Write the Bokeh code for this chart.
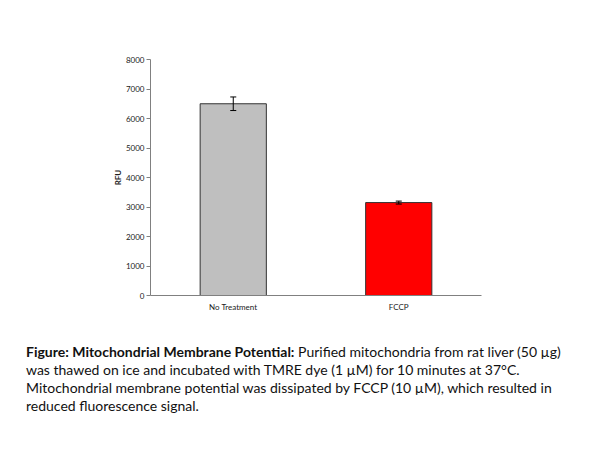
from bokeh.plotting import figure
from bokeh.models import ColumnDataSource, Whisker, Div, FixedTicker
from bokeh.layouts import column
from bokeh.embed import file_html
from bokeh.resources import INLINE

categories = ["No Treatment", "FCCP"]
rfu_values = [6500, 3150]
rfu_errors = [230, 50]
y_ticks = [0, 1000, 2000, 3000, 4000, 5000, 6000, 7000, 8000]

bar_colors = ["#BFBFBF", "#FF0000"]

src = ColumnDataSource(dict(
    cat=categories,
    val=rfu_values,
    upper=[v + e for v, e in zip(rfu_values, rfu_errors)],
    lower=[v - e for v, e in zip(rfu_values, rfu_errors)],
    color=bar_colors,
))

p = figure(x_range=categories, y_range=(0, 8000), width=584, height=330,
           output_backend="svg", toolbar_location=None,
           min_border_left=150, min_border_right=103,
           min_border_top=59, min_border_bottom=35)
p.outline_line_color = None
p.xgrid.grid_line_color = None
p.ygrid.grid_line_color = None
p.x_range.range_padding = 0

p.vbar(x="cat", top="val", width=0.4, source=src, fill_color="color",
       line_color="#333333", line_width=1)
w = Whisker(source=src, base="cat", upper="upper", lower="lower",
            line_color="black", line_width=1, level="overlay")
w.upper_head.size = 6
w.lower_head.size = 6
w.upper_head.line_color = "black"
w.lower_head.line_color = "black"
p.add_layout(w)

p.yaxis.ticker = FixedTicker(ticks=y_ticks)
p.yaxis.axis_label = "RFU"
p.yaxis.axis_label_text_font = "Lato"
p.yaxis.axis_label_text_font_size = "8px"
p.yaxis.axis_label_text_font_style = "bold"
p.yaxis.axis_label_text_color = "#222222"
p.yaxis.axis_label_standoff = 0
for ax in (p.xaxis[0], p.yaxis[0]):
    ax.axis_line_color = "#808080"
    ax.major_tick_line_color = "#808080"
    ax.minor_tick_line_color = None
    ax.major_label_text_font = "Lato"
    ax.major_label_text_font_size = "8px"
    ax.major_label_text_color = "#222222"
p.yaxis.major_tick_out = 4
p.yaxis.major_tick_in = 0
p.yaxis.major_label_standoff = 2
p.xaxis.major_tick_line_color = None
p.xaxis.major_label_standoff = 0

caption = Div(width=584, text=(
    '<div style="font-family: Lato; font-size: 14px; line-height: 18px; '
    'color: #111; white-space: nowrap; padding-left: 21px; padding-top: 8px;">'
    '<b>Figure: Mitochondrial Membrane Potential:</b> Purified mitochondria from rat liver (50 µg)<br>'
    'was thawed on ice and incubated with TMRE dye (1 µM) for 10 minutes at 37°C.<br>'
    'Mitochondrial membrane potential was dissipated by FCCP (10 µM), which resulted in<br>'
    'reduced fluorescence signal.'
    '</div>'))

layout = column(p, caption, spacing=0)
open("out.html", "w").write(file_html(layout, INLINE))
